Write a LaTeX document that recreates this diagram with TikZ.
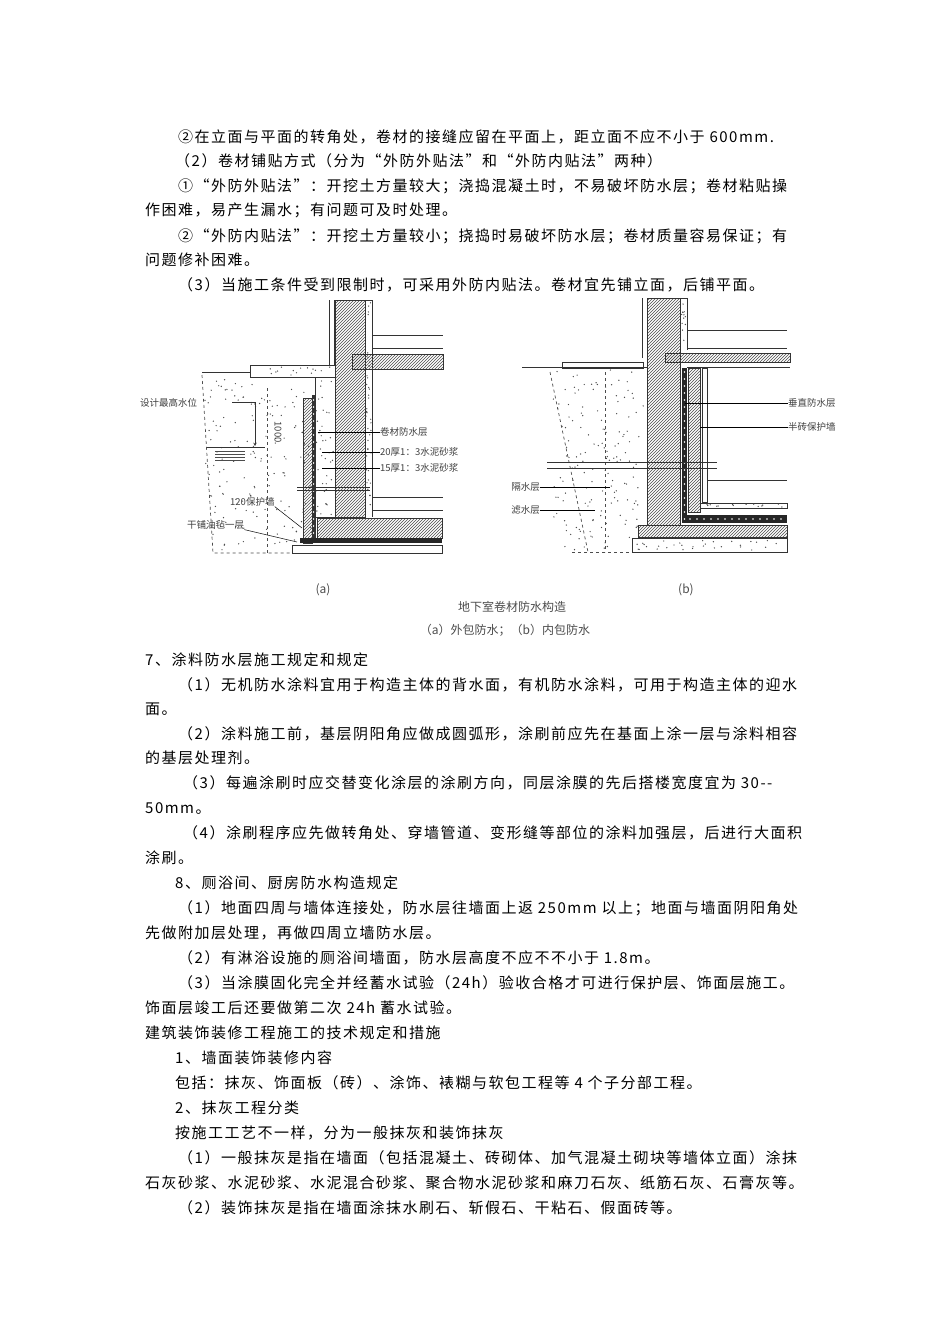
\documentclass[tikz,border=0pt]{standalone}
\usepackage{fontspec}
\setmainfont{Liberation Serif}
\newfontfamily\cjk[LetterSpace=10]{Noto Sans CJK SC}
\newfontfamily\cjklab{Noto Sans CJK SC}
\usetikzlibrary{patterns}
\newcommand{\tl}[3]{\node[txt] at (#1,#2+5) {#3};}
\tikzset{txt/.style={anchor=base west,inner sep=0pt,font=\fontsize{15}{18}\selectfont\cjk},
 lab/.style={inner sep=0pt,font=\fontsize{9.5}{11}\selectfont\cjklab,text=black!75},
 captxt/.style={inner sep=0pt,font=\fontsize{12}{14}\selectfont\cjklab,text=black!70},
 ln/.style={draw=black!80,line width=0.8pt},
 hatch/.style={ln,pattern=north east lines,pattern color=black!70},
 dsh/.style={draw=black!70,dashed,line width=0.7pt}}
\newcommand{\speckle}[5]{\foreach \i in {1,...,#5}{\fill[black!70] ({#1+rnd*#3},{#2+rnd*#4}) circle (0.7);}}
\begin{document}
\begin{tikzpicture}[x=1pt,y=-1pt]
\useasboundingbox[fill=white] (0,0) rectangle (950,1344);
\pgfmathsetseed{7}
\tl{178}{137}{②在立面与平面的转角处，卷材的接缝应留在平面上，距立面不应不小于 600mm.}
\tl{175}{161}{（2）卷材铺贴方式（分为“外防外贴法”和“外防内贴法”两种）}
\tl{178}{186}{①“外防外贴法”：开挖土方量较大；浇捣混凝土时，不易破坏防水层；卷材粘贴操}
\tl{145}{210}{作困难，易产生漏水；有问题可及时处理。}
\tl{178}{236}{②“外防内贴法”：开挖土方量较小；挠捣时易破坏防水层；卷材质量容易保证；有}
\tl{145}{260}{问题修补困难。}
\tl{178}{285}{（3）当施工条件受到限制时，可采用外防内贴法。卷材宜先铺立面，后铺平面。}
\tl{145}{660}{7、涂料防水层施工规定和规定}
\tl{178}{685}{（1）无机防水涂料宜用于构造主体的背水面，有机防水涂料，可用于构造主体的迎水}
\tl{145}{709}{面。}
\tl{178}{734}{（2）涂料施工前，基层阴阳角应做成圆弧形，涂刷前应先在基面上涂一层与涂料相容}
\tl{145}{758}{的基层处理剂。}
\tl{183}{783}{（3）每遍涂刷时应交替变化涂层的涂刷方向，同层涂膜的先后搭楼宽度宜为 30--}
\tl{145}{808}{50mm。}
\tl{183}{833}{（4）涂刷程序应先做转角处、穿墙管道、变形缝等部位的涂料加强层，后进行大面积}
\tl{145}{858}{涂刷。}
\tl{175}{883}{8、厕浴间、厨房防水构造规定}
\tl{178}{908}{（1）地面四周与墙体连接处，防水层往墙面上返 250mm 以上；地面与墙面阴阳角处}
\tl{145}{933}{先做附加层处理，再做四周立墙防水层。}
\tl{178}{958}{（2）有淋浴设施的厕浴间墙面，防水层高度不应不不小于 1.8m。}
\tl{178}{983}{（3）当涂膜固化完全并经蓄水试验（24h）验收合格才可进行保护层、饰面层施工。}
\tl{145}{1008}{饰面层竣工后还要做第二次 24h 蓄水试验。}
\tl{145}{1033}{建筑装饰装修工程施工的技术规定和措施}
\tl{175}{1058}{1、墙面装饰装修内容}
\tl{175}{1083}{包括：抹灰、饰面板（砖）、涂饰、裱糊与软包工程等 4 个子分部工程。}
\tl{175}{1108}{2、抹灰工程分类}
\tl{175}{1133}{按施工工艺不一样，分为一般抹灰和装饰抹灰}
\tl{178}{1158}{（1）一般抹灰是指在墙面（包括混凝土、砖砌体、加气混凝土砌块等墙体立面）涂抹}
\tl{145}{1183}{石灰砂浆、水泥砂浆、水泥混合砂浆、聚合物水泥砂浆和麻刀石灰、纸筋石灰、石膏灰等。}
\tl{178}{1208}{（2）装饰抹灰是指在墙面涂抹水刷石、斩假石、干粘石、假面砖等。}
% ---------- figure (a)
\speckle{205}{378}{110}{172}{160}
\draw[dsh] (202,375) -- (213,553) -- (292,553);
\draw[dsh] (267,388) -- (267,553);
\draw[ln] (202,372) -- (250,372);
\draw[ln] (250,365) rectangle (335,377); \speckle{252}{367}{80}{8}{15}
\draw[ln] (329,300) -- (329,365); \draw[ln] (334,300) -- (334,365);
\draw[hatch] (335,300) rectangle (365,517);
\draw[ln] (315,377) rectangle (335,517); \speckle{316}{380}{18}{135}{40}
\fill[black!80] (312,395) rectangle (316,543);
\foreach \yy in {400,407,...,540} \fill[white] (313.5,\yy) circle (0.8);
\draw[hatch] (303,398) rectangle (312,543);
\draw[ln] (365,300) -- (372,300) -- (372,517); \speckle{366}{302}{5}{213}{40}
\draw[ln] (372,335) -- (443,335); \draw[ln] (372,348) -- (443,348);
\draw[hatch] (352,354) rectangle (443,369);
\draw[ln] (372,497) -- (443,497); \draw[ln] (372,510) -- (443,510);
\draw[hatch] (317,518) rectangle (442,538);
\fill[black!85] (300,538) rectangle (442,543);
\draw[ln] (292,545) rectangle (442,553);
\draw[ln] (297,487) -- (370,487); \draw[ln] (297,490) -- (370,490);
\draw[ln] (207,447) -- (265,447);
\foreach \yy in {451,454,457,460} \draw[black!70] (215,\yy) -- (245,\yy);
\node[lab,anchor=west] (wl) at (140,403) {设计最高水位};
\draw[ln,line width=0.5pt,-stealth] (232,402) -- (255,402) -- (255,446);
\node[lab,rotate=-90] (dim) at (278,432) {1000};
\node[lab,anchor=west] (a1) at (380,432) {卷材防水层};
\node[lab,anchor=west] (a2) at (380,452) {20厚1：3水泥砂浆};
\node[lab,anchor=west] (a3) at (380,468) {15厚1：3水泥砂浆};
\draw[line width=0.5pt] (318,432) -- (a1.west);
\draw[line width=0.5pt] (322,452) -- (a2.west);
\draw[line width=0.5pt] (322,468) -- (a3.west);
\node[lab,anchor=west] (a4) at (230,502) {120保护墙};
\node[lab,anchor=west] (a5) at (187,525) {干铺油毡一层};
\draw[line width=0.5pt] (a4.south east) -- (302,528);
\draw[line width=0.5pt] (a5.south east) -- (297,542);
% ---------- figure (b)
\speckle{552}{370}{92}{180}{150}
\draw[dsh] (550,372) -- (588,552); \draw[dsh] (605,372) -- (605,552);
\draw[dsh] (572,552) -- (632,552);
\draw[ln] (522,367) -- (647,367);
\draw[ln] (562,362) rectangle (643,368);
\draw[ln] (642,298) -- (642,358);
\draw[hatch] (647,298) rectangle (680,525);
\draw[ln] (680,298) -- (687,298) -- (687,350); \speckle{681}{300}{5}{48}{12}
\draw[ln] (687,330) -- (787,330); \draw[ln] (687,348) -- (787,348);
\draw[hatch] (665,353) rectangle (790,362);
\draw[ln] (687,367) -- (790,367);
\fill[black!85] (682,368) rectangle (687,523);
\foreach \yy in {372,379,...,520} \fill[white] (684.5,\yy) circle (0.8);
\draw[hatch] (688,368) rectangle (700,512);
\draw[ln] (702,368) rectangle (707,502);
\draw[ln] (707,480) -- (787,480);
\draw[ln] (700,503) rectangle (787,508); \speckle{701}{504}{85}{3}{15}
\fill[black!85] (687,515) rectangle (787,523);
\foreach \xx in {690,697,...,785} \fill[white] (\xx,519) circle (0.8);
\draw[hatch] (638,525) rectangle (787,537);
\draw[ln] (632,538) rectangle (787,552); \speckle{634}{540}{150}{10}{30}
\draw[ln] (547,462) -- (717,462); \draw[ln] (547,468) -- (717,468);
\node[lab,anchor=west] (b1) at (788,403) {垂直防水层};
\node[lab,anchor=west] (b2) at (788,427) {半砖保护墙};
\draw[line width=0.5pt] (685,403) -- (b1.west);
\draw[line width=0.5pt] (700,427) -- (b2.west);
\node[lab,anchor=east] (b3) at (540,487) {隔水层};
\node[lab,anchor=east] (b4) at (540,510) {滤水层};
\draw[line width=0.5pt] (b3.east) -- (610,487);
\draw[line width=0.5pt] (b4.east) -- (595,510);
% captions
\node[captxt] (ca) at (323,590) {(a)};
\node[captxt] (cb) at (686,590) {(b)};
\node[captxt] (c1) at (512,607) {地下室卷材防水构造};
\node[captxt] (c2) at (505,630) {（a）外包防水；（b）内包防水};
\end{tikzpicture}
\end{document}
